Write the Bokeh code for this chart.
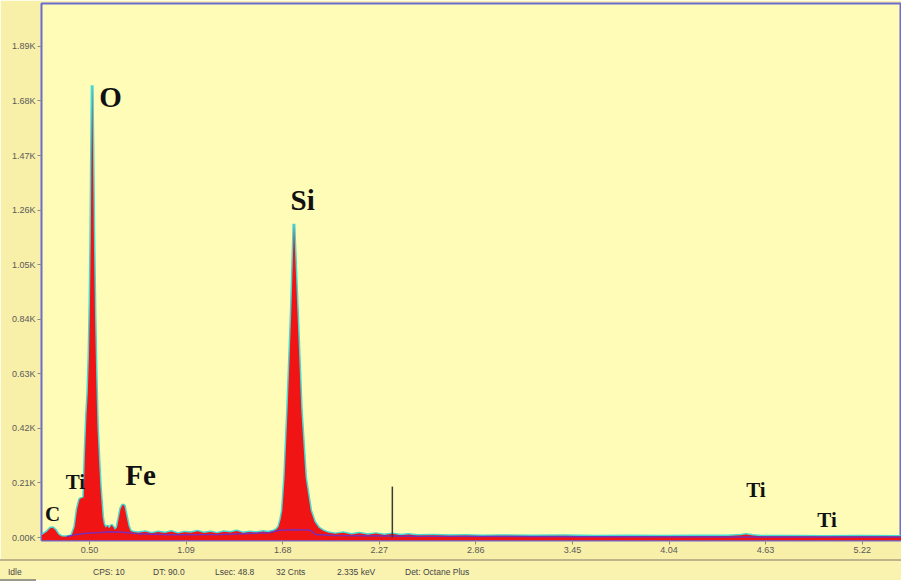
from bokeh.plotting import figure
from bokeh.models import Range1d, FixedTicker, Div
from bokeh.layouts import column
from bokeh.core.properties import value
from bokeh.embed import file_html
from bokeh.resources import INLINE

# ---------------- data ----------------
energy_kev = [0.21, 0.24, 0.26, 0.275, 0.29, 0.31, 0.33, 0.36, 0.39, 0.41,
              0.425, 0.44, 0.455, 0.465, 0.472, 0.482, 0.49, 0.497, 0.503, 0.508,
              0.512, 0.5165, 0.521, 0.527, 0.534, 0.541, 0.549, 0.558, 0.566, 0.573,
              0.58, 0.588, 0.60, 0.61, 0.62, 0.635, 0.645, 0.655, 0.668, 0.678,
              0.69, 0.703, 0.713, 0.725, 0.738, 0.75, 0.77,
              0.80, 0.84, 0.88, 0.92, 0.96, 1.00, 1.04, 1.08, 1.12, 1.16, 1.20,
              1.24, 1.28, 1.32, 1.36, 1.40, 1.44, 1.48, 1.52, 1.56, 1.59,
              1.62, 1.64, 1.655, 1.668, 1.678, 1.692, 1.71, 1.733, 1.749, 1.77,
              1.794, 1.82, 1.851, 1.875, 1.90, 1.93, 1.96,
              2.00, 2.05, 2.10, 2.15, 2.20, 2.25, 2.30, 2.35, 2.40, 2.45, 2.50,
              2.60, 2.70, 2.80, 2.90, 3.00, 3.20, 3.40, 3.60, 3.80, 4.00, 4.20,
              4.40, 4.48, 4.51, 4.55, 4.60, 4.80, 5.00, 5.20, 5.46]
counts = [10, 22, 36, 38, 30, 12, 4, 3, 6, 40,
          110, 148, 152, 155, 310, 470, 560, 700, 900, 1150,
          1450, 1740, 1500, 1150, 850, 620, 420, 300, 200, 140,
          80, 50, 38, 45, 35, 48, 40, 30, 38, 70,
          110, 126, 122, 85, 45, 25, 20,
          18, 22, 16, 21, 17, 23, 15, 20, 18, 24, 17,
          21, 16, 22, 19, 25, 17, 21, 18, 23, 20,
          24, 30, 40, 70, 104, 231, 489, 873, 1207, 873,
          489, 231, 104, 60, 38, 25, 18,
          14, 18, 12, 16, 11, 15, 10, 14, 9, 12, 8,
          9, 7, 8, 6, 7, 6, 7, 5, 6, 5, 6,
          6, 9, 12, 8, 5, 5, 4, 5, 4]

bkg_energy = [0.36, 0.42, 0.48, 0.55, 0.62, 0.70, 0.80, 1.00, 1.30, 1.60,
              1.66, 1.75, 1.85, 1.88, 2.00, 2.50, 3.50, 5.46]
bkg_counts = [3, 12, 16, 18, 22, 20, 14, 11, 12, 18,
              28, 30, 28, 12, 8, 5, 3, 2]

marker_kev = [2.35]
marker_counts = [196]

x_ticks = [0.50, 1.09, 1.68, 2.27, 2.86, 3.45, 4.04, 4.63, 5.22]
x_tick_labels = ["0.50", "1.09", "1.68", "2.27", "2.86", "3.45", "4.04", "4.63", "5.22"]
y_ticks = [0, 210, 420, 630, 840, 1050, 1260, 1470, 1680, 1890]
y_tick_labels = ["0.00K", "0.21K", "0.42K", "0.63K", "0.84K", "1.05K",
                 "1.26K", "1.47K", "1.68K", "1.89K"]

big_labels = ["O", "Si", "Fe"]
big_label_kev = [0.628, 1.802, 0.812]
big_label_counts = [1694, 1297, 239]
small_labels = ["C", "Ti", "Ti", "Ti"]
small_label_kev = [0.274, 0.414, 4.571, 5.005]
small_label_counts = [89, 212, 181, 69]

status_texts = ["Idle", "CPS: 10", "DT: 90.0", "Lsec: 48.8", "32 Cnts",
                "2.335 keV", "Det: Octane Plus"]
status_left_px = [8, 93, 153, 215, 276, 337, 405]

# ---------------- styling ----------------
BORDER_BG = "#F8EFA8"
PLOT_BG = "#FFFCB8"

p = figure(width=901, height=559, output_backend="svg", toolbar_location=None,
           x_range=Range1d(0.207, 5.46), y_range=Range1d(-11.5, 2055),
           min_border_left=41, min_border_right=0, min_border_top=3,
           min_border_bottom=19)
p.background_fill_color = PLOT_BG
p.border_fill_color = BORDER_BG
p.outline_line_color = "#6B6BD0"
p.outline_line_width = 2
p.grid.visible = False

# spectrum: cyan outline beneath the red fill
p.line(energy_kev, counts, line_color="#46D9D4", line_width=3)
p.varea(x=energy_kev, y1=-11.5, y2=counts, fill_color="#F01414")
p.line(bkg_energy, bkg_counts, line_color="#7A2DB8", line_width=1.5)
p.segment(x0=marker_kev, y0=[0], x1=marker_kev, y1=marker_counts,
          line_color="#3A3A3A", line_width=1.5)

p.text(x=big_label_kev, y=big_label_counts, text=big_labels,
       text_font=value("Liberation Serif"), text_font_style="bold",
       text_font_size="29px", text_align="center", text_baseline="middle",
       text_color="#111111")
p.text(x=small_label_kev, y=small_label_counts, text=small_labels,
       text_font=value("Liberation Serif"), text_font_style="bold",
       text_font_size="21px", text_align="center", text_baseline="middle",
       text_color="#111111")

p.xaxis.ticker = FixedTicker(ticks=x_ticks)
p.xaxis.major_label_overrides = dict(zip(x_ticks, x_tick_labels))
p.yaxis.ticker = FixedTicker(ticks=y_ticks)
p.yaxis.major_label_overrides = dict(zip(y_ticks, y_tick_labels))
for ax in (p.xaxis, p.yaxis):
    ax.axis_line_color = None
    ax.major_tick_line_color = "#8A8A8A"
    ax.major_tick_out = 4
    ax.major_tick_in = 0
    ax.minor_tick_line_color = None
    ax.major_label_text_font = "Liberation Sans"
    ax.major_label_text_font_size = "9px"
    ax.major_label_text_color = "#5A5A5A"
    ax.major_label_standoff = 2

# status bar (HTML strip under the chart)
spans = "".join(
    f'<span style="position:absolute;left:{x}px;top:6px;white-space:nowrap">{t}</span>'
    for t, x in zip(status_texts, status_left_px))
status = Div(
    text=(f'<div style="position:relative;width:901px;height:21px;'
          f'background:#FAF3B0;border-top:2px solid #BDB48C;'
          f'font-family:\'Liberation Sans\';font-size:8.5px;color:#444444;'
          f'line-height:10px;">{spans}'
          f'<div style="position:absolute;left:0;top:18px;width:36px;height:3px;'
          f'background:#9A9A8A"></div></div>'),
    width=901, height=22, margin=0)

layout = column(p, status, spacing=0)
open("out.html", "w").write(file_html(layout, INLINE))
